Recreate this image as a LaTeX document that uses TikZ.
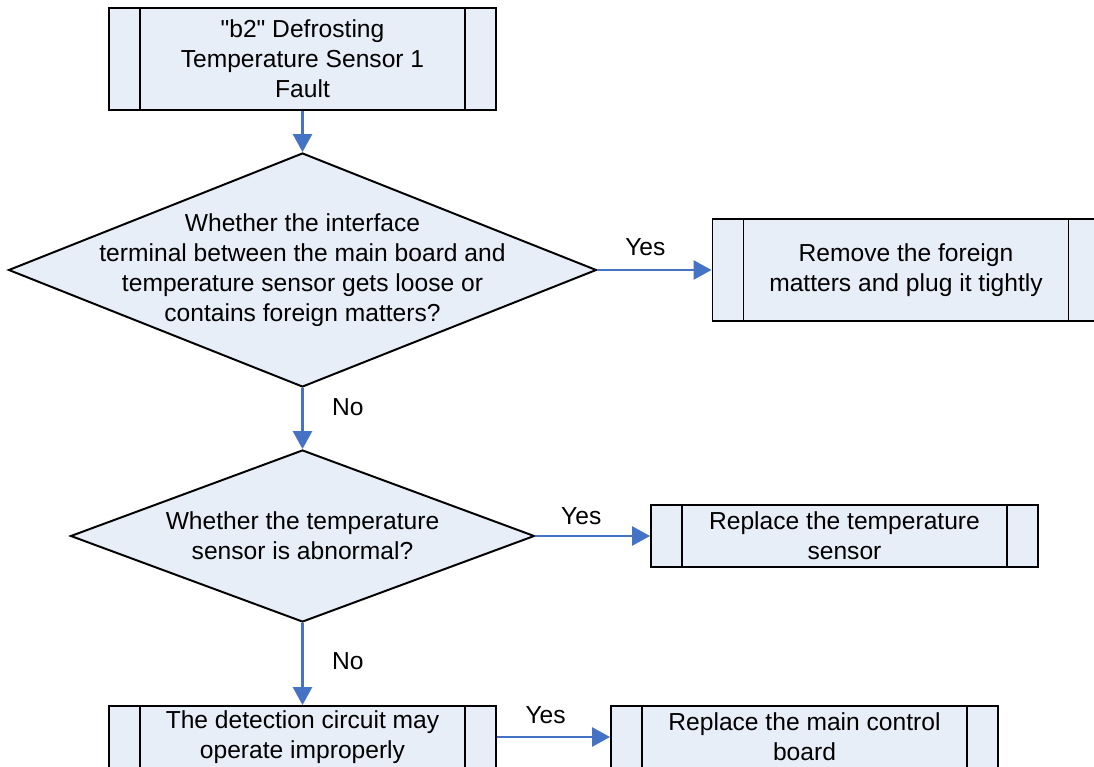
\documentclass[tikz,border=0pt]{standalone}
\usepackage{fontspec}
\setmainfont{Liberation Sans}
\usetikzlibrary{arrows.meta,shapes.geometric}
\definecolor{boxfill}{RGB}{232,238,247}
\definecolor{flowblue}{RGB}{68,114,196}

\begin{document}
\begin{tikzpicture}[>={Triangle[length=0.45cm,width=0.48cm]},
    line width=1.4pt,font=\fontsize{17.5}{21.3}\selectfont,
    proc node/.style={rectangle,draw=black,fill=boxfill,align=center,
      inner xsep=0pt,inner ysep=2pt,minimum width=9.675cm,
      path picture={
        \draw[line width=1.4pt]
          ([xshift=0.775cm]path picture bounding box.north west) --
          ([xshift=0.775cm]path picture bounding box.south west)
          ([xshift=-0.775cm]path picture bounding box.north east) --
          ([xshift=-0.775cm]path picture bounding box.south east);}},
    decision/.style={diamond,draw=black,fill=boxfill,inner sep=0pt},
    flow/.style={color=flowblue,line width=1.6pt,->}]

    \useasboundingbox (0,0) rectangle (27.35,-19.175);

    \node[proc node,minimum height=2.55cm] (Start) at (7.5625,-1.475)
      {\textquotedbl b2\textquotedbl{} Defrosting\\Temperature Sensor 1\\Fault};

    % first check
    \node[decision,minimum width=14.7cm,minimum height=5.85cm,
      label={[align=center]center:Whether the interface\\terminal between the main board and\\temperature sensor gets loose or\\contains foreign matters?}]
      (Loose) [node distance=5.275cm, below of=Start] {};
    \node[proc node,minimum height=2.55cm] (Remove) [node distance=15.0875cm, right of=Loose]
      {Remove the foreign\\matters and plug it tightly};

    % second check
    \node[decision,minimum width=11.6cm,minimum height=4.3cm,
      label={[align=center]center:Whether the temperature\\sensor is abnormal?}]
      (Abnormal) [node distance=6.65cm, below of=Loose] {};
    \node[proc node,minimum height=1.55cm] (Sensor) [node distance=13.55cm, right of=Abnormal]
      {Replace the temperature\\sensor};

    \node[proc node,minimum height=1.55cm] (Circuit) [node distance=5.025cm, below of=Abnormal]
      {The detection circuit may\\operate improperly};
    \node[proc node,minimum height=1.55cm] (Board) [node distance=12.55cm, right of=Circuit]
      {Replace the main control\\board};

    \path[flow, every node/.style={inner sep=1pt,text=black}]
      (Start) edge (Loose)
      (Loose) edge node[pos=0.42, above=0.3cm] {Yes} (Remove)
      (Loose) edge node[pos=0.32, right=0.68cm] {No} (Abnormal)
      (Abnormal) edge node[pos=0.40, above=0.22cm] {Yes} (Sensor)
      (Abnormal) edge node[pos=0.46, right=0.68cm] {No} (Circuit)
      (Circuit) edge node[pos=0.43, above=0.27cm] {Yes} (Board);
  \end{tikzpicture}
\end{document}
